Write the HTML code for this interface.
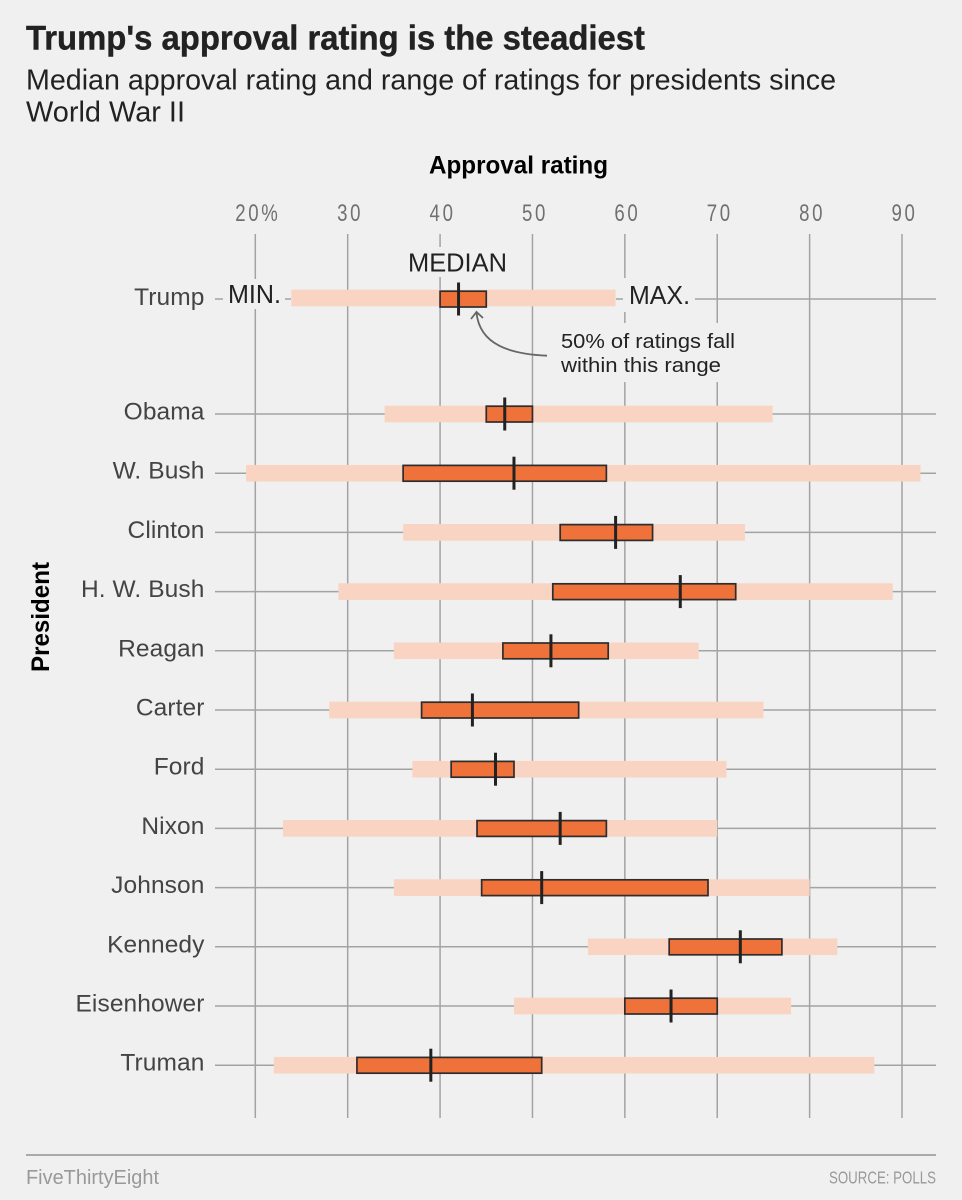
<!DOCTYPE html>
<html lang="en">
<head>
<meta charset="utf-8">
<title>Trump's approval rating is the steadiest</title>
<style>
  html, body { margin: 0; padding: 0; background: #f0f0f0; }
  body { width: 962px; height: 1200px; overflow: hidden; }
  svg { display: block; font-family: "Liberation Sans", sans-serif; }
</style>
</head>
<body>
<svg id="chart" width="962" height="1200" viewBox="0 0 962 1200" xmlns="http://www.w3.org/2000/svg">
  <rect x="0" y="0" width="962" height="1200" fill="#f0f0f0"/>
  <text x="26" y="49.5" font-size="34" font-weight="700" fill="#222" stroke="#222" stroke-width="0.4" textLength="619" lengthAdjust="spacingAndGlyphs">Trump's approval rating is the steadiest</text>
  <text x="26" y="89.5" font-size="29" fill="#222" textLength="810" lengthAdjust="spacingAndGlyphs">Median approval rating and range of ratings for presidents since</text>
  <text x="26" y="121.5" font-size="29" fill="#222" textLength="159" lengthAdjust="spacingAndGlyphs">World War II</text>
  <text x="429" y="173.5" font-size="25" font-weight="700" fill="#000" textLength="179" lengthAdjust="spacingAndGlyphs">Approval rating</text>
  <text transform="translate(49 672) rotate(-90)" font-size="25" font-weight="700" fill="#000" textLength="110" lengthAdjust="spacingAndGlyphs">President</text>
  <g id="grid"></g>
  <g id="masks">
    <rect x="223" y="279" width="62" height="30" fill="#f0f0f0"/>
    <rect x="404" y="247" width="106" height="30" fill="#f0f0f0"/>
    <rect x="623" y="278" width="72" height="34" fill="#f0f0f0"/>
    <rect x="612" y="323" width="130" height="59" fill="#f0f0f0"/>
    <rect x="555" y="328" width="60" height="52" fill="#f0f0f0"/>
  </g>
  <g id="ticks"></g>
  <g id="rows"></g>
  <text x="228" y="303" font-size="25.5" fill="#222" textLength="53" lengthAdjust="spacingAndGlyphs">MIN.</text>
  <text x="408" y="271.5" font-size="25.5" fill="#222" textLength="99" lengthAdjust="spacingAndGlyphs">MEDIAN</text>
  <text x="629" y="304" font-size="25.5" fill="#222" textLength="61" lengthAdjust="spacingAndGlyphs">MAX.</text>
  <text x="561" y="348" font-size="20.5" fill="#222" textLength="174" lengthAdjust="spacingAndGlyphs">50% of ratings fall</text>
  <text x="561" y="372" font-size="20.5" fill="#222" textLength="160" lengthAdjust="spacingAndGlyphs">within this range</text>
  <path d="M547 355.7 C510 354 480 345 476.5 313 M471 319 L476.5 312 L483 318" fill="none" stroke="#666" stroke-width="1.8"/>
  <line x1="26" x2="936" y1="1155" y2="1155" stroke="#aaa" stroke-width="2"/>
  <text x="26" y="1184" font-size="20" fill="#999" textLength="133" lengthAdjust="spacingAndGlyphs">FiveThirtyEight</text>
  <text x="829" y="1183.5" font-size="17.5" fill="#999" textLength="107" lengthAdjust="spacingAndGlyphs">SOURCE: POLLS</text>
</svg>
<script>
const presidents = ["Trump","Obama","W. Bush","Clinton","H. W. Bush","Reagan","Carter","Ford","Nixon","Johnson","Kennedy","Eisenhower","Truman"];
const minValues = [23.9,34,19,36,29,35,28,37,23,35,56,48,22];
const q1Values = [40,45,36,53,52.2,46.8,38,41.2,44,44.5,64.8,60,31];
const medianValues = [42,47,48,59,66,52,43.5,46,53,51,72.5,65,39];
const q3Values = [45,50,58,63,72,58.2,55,48,58,69,77,70,51];
const maxValues = [59,76,92,73,89,68,75,71,70,80,83,78,87];
const tickValues = [20,30,40,50,60,70,80,90];
const tickLabels = ["20%","30","40","50","60","70","80","90"];

const NS = "http://www.w3.org/2000/svg";
function xScale(v) { return 255.3 + (v - 20) * (902 - 255.3) / 70; }
function yScale(i) { return i === 0 ? 299 : 414 + (i - 1) * 59.2; }
function make(tag, attrs, parent) {
  const el = document.createElementNS(NS, tag);
  for (const k in attrs) el.setAttribute(k, attrs[k]);
  parent.appendChild(el);
  return el;
}
const grid = document.getElementById("grid");
const ticks = document.getElementById("ticks");
const rows = document.getElementById("rows");

tickValues.forEach(function (v, i) {
  const line = make("line", {x1: xScale(v), x2: xScale(v), y1: 234, y2: 1118, stroke: "#a3a3a3", "stroke-width": 1.5}, grid);
  
  
  const label = make("text", {transform: "translate(" + (xScale(v) + 2.5) + " 221) scale(0.76 1)", "font-size": 24.5, fill: "#707070", "text-anchor": "middle", "letter-spacing": 3.5}, ticks);
  label.textContent = tickLabels[i];
  
  
});

presidents.forEach(function (name, i) {
  const y = yScale(i);
  if (i === 0) {
    [[215, 223], [285, 291], [616, 623], [695, 936]].forEach(function (seg) {
      const part = make("line", {x1: seg[0], x2: seg[1], y1: y, y2: y, stroke: "#a3a3a3", "stroke-width": 1.5}, grid);
      
      
    });
  } else {
    const rowLine = make("line", {x1: 215, x2: 936, y1: y, y2: y, stroke: "#a3a3a3", "stroke-width": 1.5}, grid);
    
    
  }
  const label = make("text", {x: 204.5, y: y + (i === 0 ? 6 : 5.5), "font-size": 24.5, fill: "#444", "text-anchor": "end", "letter-spacing": 0.1}, rows);
  label.textContent = name;
  
  

  const cy = i === 0 ? y - 1 : y;
  const range = make("rect", {x: xScale(minValues[i]), y: cy - 8.3, width: xScale(maxValues[i]) - xScale(minValues[i]), height: 16.6, fill: "#f9d4c3"}, rows);
  
  

  const box = make("rect", {x: xScale(q1Values[i]), y: cy - 7.8 + (i === 0 ? 1 : 0), width: xScale(q3Values[i]) - xScale(q1Values[i]), height: 15.8, fill: "#ee7239", stroke: "#2d2d2d", "stroke-width": 1.7}, rows);
  
  

  const med = make("line", {x1: xScale(medianValues[i]), x2: xScale(medianValues[i]), y1: y - 16.5, y2: y + 16.5, stroke: "#222", "stroke-width": 3}, rows);
  
  
});
</script>
</body>
</html>
